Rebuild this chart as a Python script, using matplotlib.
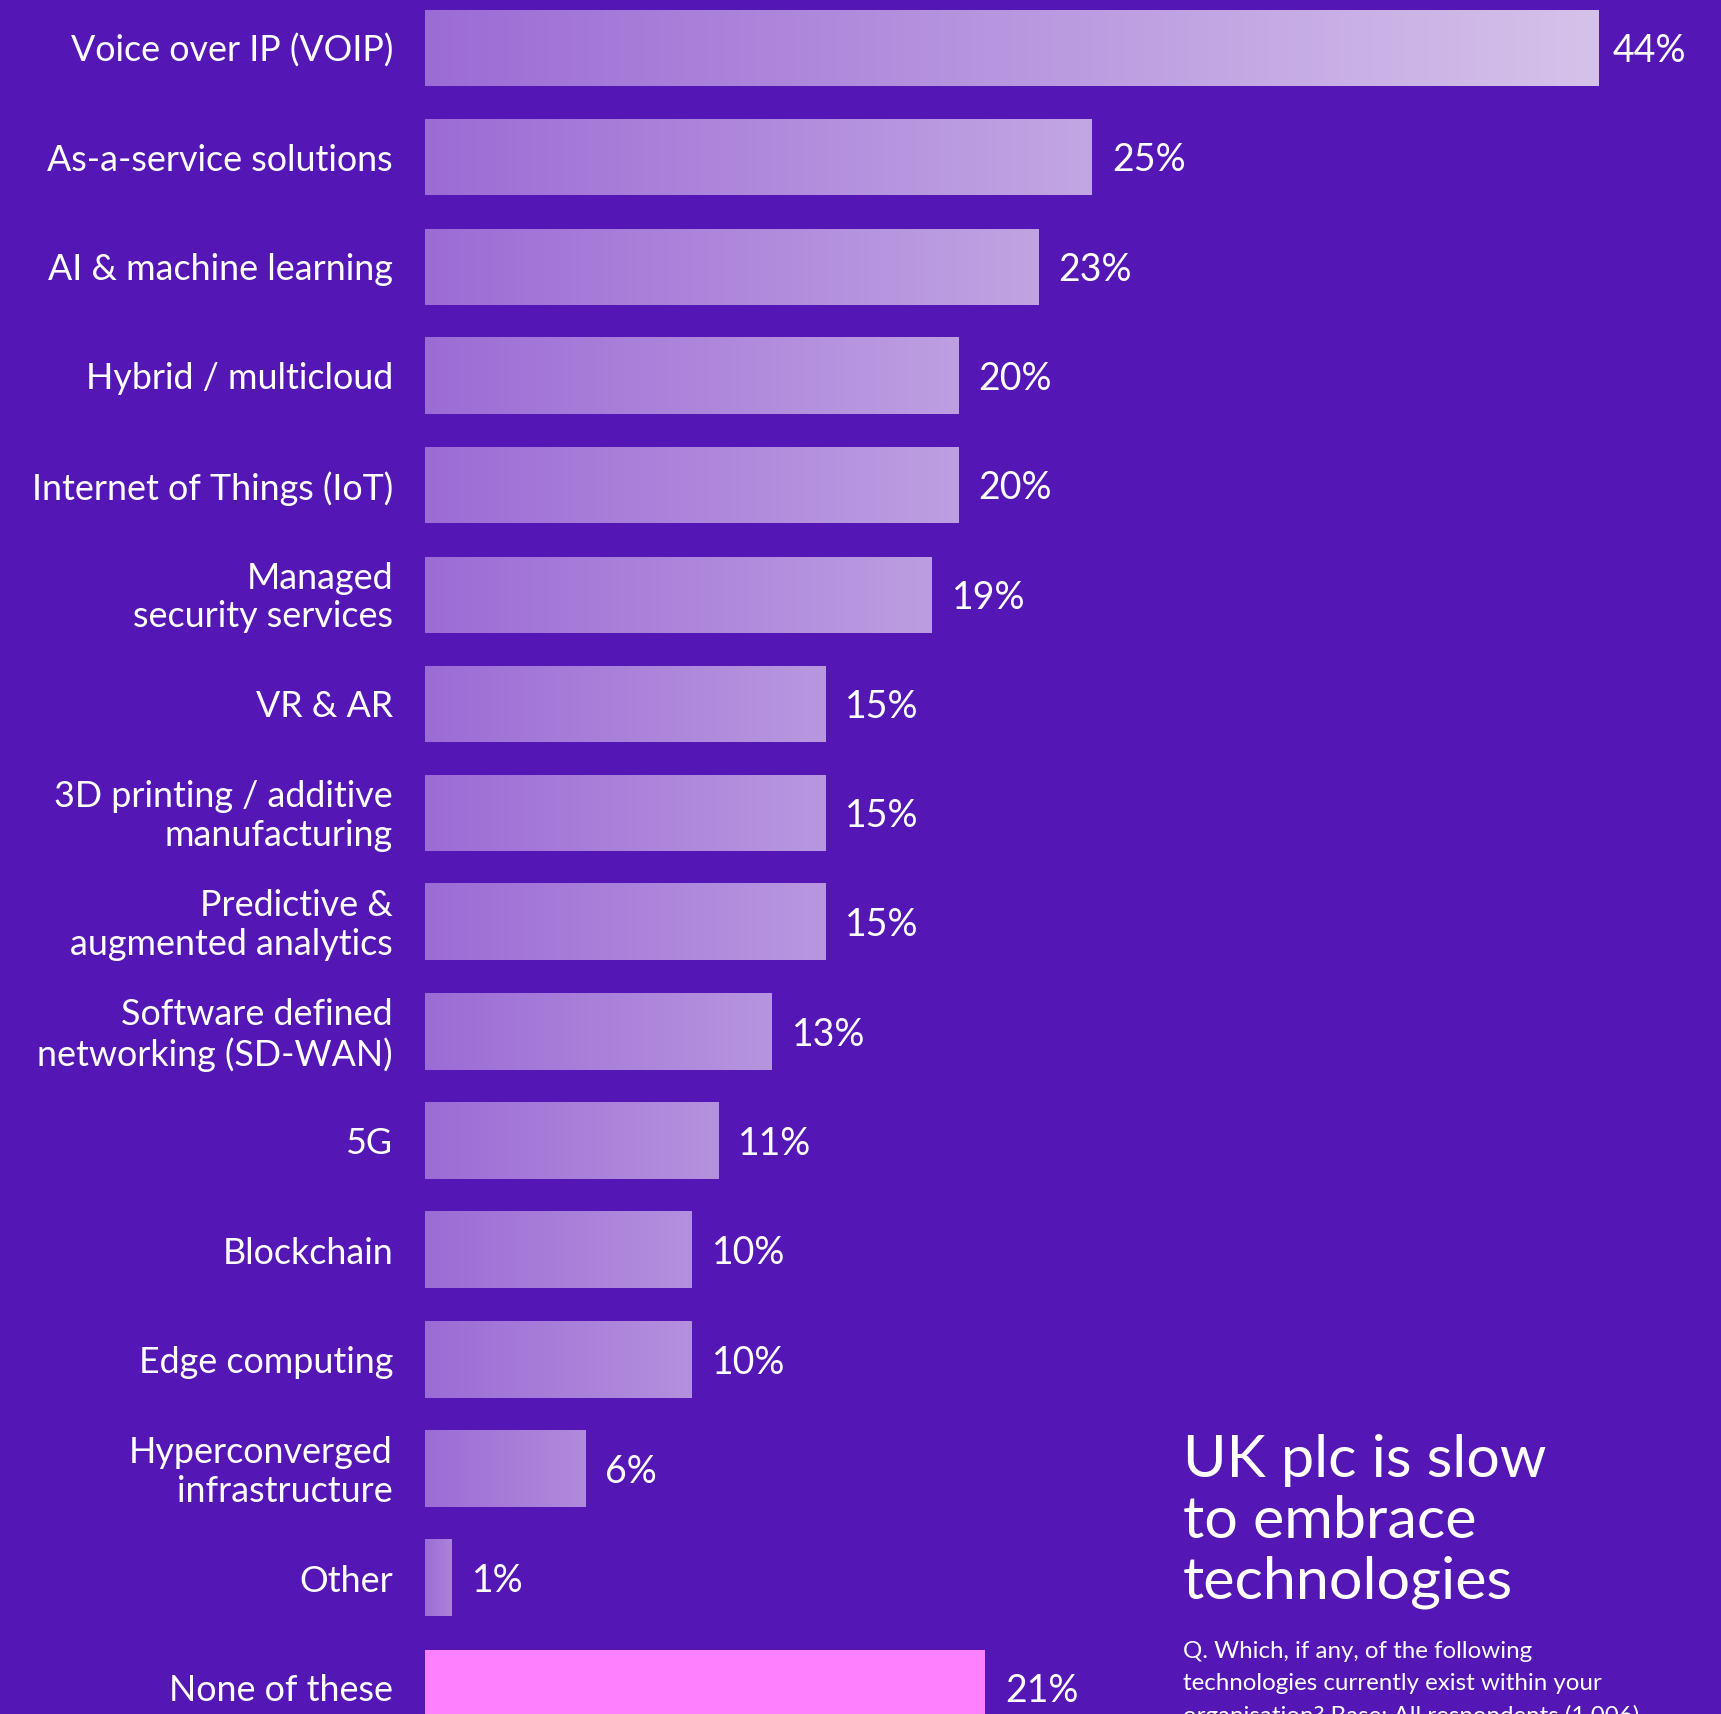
import numpy as np
import matplotlib
matplotlib.use('Agg')
import matplotlib.pyplot as plt
from matplotlib.colors import to_rgb

labels = [
	'Voice over IP (VOIP)',
	'As-a-service solutions',
	'AI & machine learning',
	'Hybrid / multicloud',
	'Internet of Things (IoT)',
	'Managed\nsecurity services',
	'VR & AR',
	'3D printing / additive\nmanufacturing',
	'Predictive &\naugmented analytics',
	'Software defined\nnetworking (SD-WAN)',
	'5G',
	'Blockchain',
	'Edge computing',
	'Hyperconverged\ninfrastructure',
	'Other',
	'None of these',
]
values = [44, 25, 23, 20, 20, 19, 15, 15, 15, 13, 11, 10, 10, 6, 1, 21]

bg = '#5416B4'
grad_start = np.array(to_rgb('#9C6CD5'))
grad_end = np.array(to_rgb('#D5C2EA'))
none_color = '#FF80FF'

plt.rcParams['font.family'] = ['Lato', 'DejaVu Sans']

fig = plt.figure(figsize=(17.21, 17.15), dpi=100, facecolor=bg)
ax = fig.add_axes([0, 0, 1, 1])
ax.set_facecolor(bg)

px_per_pct = 26.67
x0_px = 425
row_px = 109.3
top_px = 49
xl = (-x0_px / px_per_pct, (1721 - x0_px) / px_per_pct)
yl = ((1715 - top_px) / row_px, -top_px / row_px)
h = 76 / row_px

for i, (lab, v) in enumerate(zip(labels, values)):
	if lab == 'None of these':
		ax.barh(i, v, height=h, color=none_color, left=0)
	else:
		# gradient gets lighter the longer the bar is
		f = 0.25 + 0.75 * v / max(values)
		n = 256
		t = np.linspace(0, 1, n)[None, :, None]
		end = grad_start + (grad_end - grad_start) * f
		img = grad_start + (end - grad_start) * t
		ax.imshow(img, extent=(0, v, i + h / 2, i - h / 2), aspect='auto',
			interpolation='bilinear', zorder=2)
	ax.annotate(lab, (0, i), xytext=(-32, -2), textcoords='offset pixels',
		ha='right', va='center', color='white', fontsize=25.8, linespacing=1.22)
	# the top bar almost reaches the edge, so its label sits a bit closer
	gap = 14 if v == max(values) else 20
	ax.annotate(f'{v}%', (v, i), xytext=(gap, -2), textcoords='offset pixels',
		ha='left', va='center', color='white', fontsize=27)

ax.set_xlim(*xl)
ax.set_ylim(*yl)
ax.axis('off')

fig.text(1183 / 1721, 1 - 1434 / 1715, 'UK plc is slow\nto embrace\ntechnologies',
	ha='left', va='top', color='white', fontsize=42.7, linespacing=1.18)
fig.text(1183 / 1721, 1 - 1641 / 1715,
	'Q. Which, if any, of the following\ntechnologies currently exist within your\norganisation? Base: All respondents (1,006)',
	ha='left', va='top', color='white', fontsize=17.4, linespacing=1.62)

fig.savefig('out.png', dpi=100, facecolor=bg)
